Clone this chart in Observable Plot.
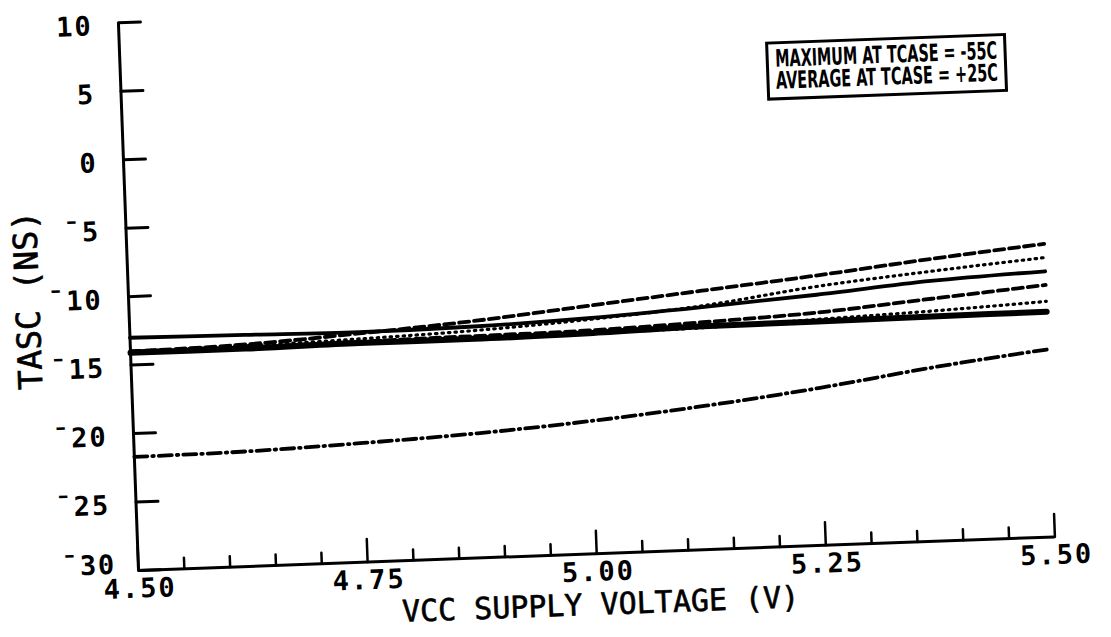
<!DOCTYPE html>
<html><head><meta charset="utf-8">
<script src="https://cdn.jsdelivr.net/npm/d3@7"></script>
<script src="https://cdn.jsdelivr.net/npm/@observablehq/plot@0.6"></script>
<style>
html,body{margin:0;padding:0;background:#fff;}
#chart{width:1111px;height:637px;overflow:hidden;position:relative;}
#chart svg{display:block;}
#chart svg.tilt{transform-origin:138px 570px;transform:rotate(-2.1deg);}
</style></head><body><div id="chart"></div>
<script>
// ---- data ----
const voltage   = [4.50, 4.625, 4.75, 4.875, 5.00, 5.125, 5.25, 5.375, 5.50];
const dashedHi  = [-14.0, -13.8, -13.3, -12.7, -11.9, -11.1, -10.3, -9.4, -8.6];
const dottedHi  = [-14.0, -13.9, -13.7, -13.4, -12.9, -12.2, -11.1, -10.3, -9.6];
const solidHi   = [-13.0, -13.1, -13.2, -13.1, -12.8, -12.3, -11.7, -11.0, -10.6];
const dashedLo  = [-14.0, -14.0, -13.9, -13.8, -13.7, -13.4, -13.0, -12.3, -11.6];
const dottedLo  = [-14.0, -14.0, -14.0, -14.0, -13.9, -13.8, -13.5, -13.2, -12.8];
const solidLo   = [-14.1, -14.1, -14.0, -14.0, -13.9, -13.7, -13.65, -13.6, -13.55];
const dashDot   = [-21.7, -21.6, -21.3, -20.9, -20.3, -19.5, -18.5, -17.3, -16.3];

const yTicks  = [10, 5, 0, -5, -10, -15, -20, -25, -30];
const xMajor  = [4.50, 4.75, 5.00, 5.25, 5.50];
const xMinor  = [4.55, 4.60, 4.65, 4.70, 4.80, 4.85, 4.90, 4.95, 5.05, 5.10, 5.15, 5.20, 5.30, 5.35, 5.40, 5.45];
const xDomain = [4.50, 5.50];
const yDomain = [-30, 10];
const xTitle  = "VCC SUPPLY VOLTAGE (V)";
const yTitle  = "TASC (NS)";
const legendLines = ["MAXIMUM AT TCASE = -55C", "AVERAGE AT TCASE = +25C"];

const rows = vals => voltage.map((v, i) => ({v, t: vals[i]}));
const fmtY = d => d < 0 ? "\u00AF" + Math.abs(d) : String(d);
const MONO = "DejaVu Sans Mono";
const NARROW = "'Liberation Sans Narrow', 'Arial Narrow', 'DejaVu Sans Condensed', sans-serif";
const tickShape = {draw(context, l) { context.moveTo(0, 0); context.lineTo(0, -l); }};
const lineBase = {x: "v", y: "t", stroke: "black", curve: "monotone-x", strokeLinecap: "round"};
const labelStyle = {fontSize: 27, fontWeight: "bold", fontFamily: MONO, fill: "black"};
const legendStyle = {frameAnchor: "top-right", textAnchor: "start", dx: -262,
  fontSize: 24, fontWeight: "bold", fontFamily: NARROW, fill: "black"};

const chart = Plot.plot({
  width: 1111, height: 637,
  marginTop: 22, marginBottom: 67, marginLeft: 138, marginRight: 56,
  x: {domain: xDomain, axis: null},
  y: {domain: yDomain, axis: null},
  style: {background: "white", fontFamily: MONO, overflow: "visible"},
  marks: [
    // curves
    Plot.line(rows(dashedHi), {...lineBase, strokeWidth: 3.8, strokeDasharray: "10,5"}),
    Plot.line(rows(dottedHi), {...lineBase, strokeWidth: 3.2, strokeDasharray: "1.5,5"}),
    Plot.line(rows(solidHi),  {...lineBase, strokeWidth: 3.8}),
    Plot.line(rows(dashedLo), {...lineBase, strokeWidth: 3.8, strokeDasharray: "10,5"}),
    Plot.line(rows(dottedLo), {...lineBase, strokeWidth: 3.2, strokeDasharray: "1.5,5"}),
    Plot.line(rows(solidLo),  {...lineBase, strokeWidth: 6}),
    Plot.line(rows(dashDot),  {...lineBase, strokeWidth: 3.8, strokeDasharray: "13,5,1.5,5"}),
    // axis lines
    Plot.ruleX([xDomain[0]], {strokeWidth: 3}),
    Plot.ruleY([yDomain[0]], {strokeWidth: 3}),
    // y ticks (inward, to the right)
    Plot.vector(yTicks, {x: () => xDomain[0], y: d => d, length: 22, rotate: 90, anchor: "start",
      shape: tickShape, strokeWidth: 3, stroke: "black"}),
    // x ticks (inward, upward)
    Plot.vector(xMinor, {x: d => d, y: () => yDomain[0], length: 11, anchor: "start",
      shape: tickShape, strokeWidth: 2.5, stroke: "black"}),
    Plot.vector(xMajor, {x: d => d, y: () => yDomain[0], length: 23, anchor: "start",
      shape: tickShape, strokeWidth: 2.5, stroke: "black"}),
    // tick labels (the bottom one sits a little higher, clear of the x labels)
    Plot.text(yTicks.filter(d => d > yDomain[0]), {x: () => xDomain[0], y: d => d, text: fmtY, textAnchor: "end", dx: -26, dy: 3, ...labelStyle}),
    Plot.text(yTicks.filter(d => d === yDomain[0]), {x: () => xDomain[0], y: d => d, text: fmtY, textAnchor: "end", dx: -22, dy: -6, ...labelStyle}),
    Plot.text(xMajor, {x: d => d, y: () => yDomain[0], text: d => d.toFixed(2), lineAnchor: "top", dy: 8, dx: 1, ...labelStyle}),
    // axis titles
    Plot.text([yTitle], {text: d => d, frameAnchor: "left", textAnchor: "middle", rotate: -90, dx: -100,
      fontSize: 33, fontFamily: MONO, fill: "black", stroke: "black", strokeWidth: 0.6}),
    Plot.text([xTitle], {text: d => d, frameAnchor: "bottom", textAnchor: "middle", dy: 61, dx: 2,
      fontSize: 30, fontFamily: MONO, fill: "black", stroke: "black", strokeWidth: 0.6}),
    // legend
    Plot.text([legendLines[0]], {text: d => d, dy: 51, ...legendStyle}),
    Plot.text([legendLines[1]], {text: d => d, dy: 73, ...legendStyle})
  ]
});

const host = document.getElementById("chart");
host.appendChild(chart);

const svg = d3.select(chart);
// widen the plotter-style tick labels a little
svg.selectAll("text").filter(function() { return /^[\u00AF]?\d+(\.\d+)?$/.test(this.textContent); })
  .attr("letter-spacing", 2);

// legend box around the legend texts
const legendTexts = svg.selectAll("text").filter(function() { return legendLines.includes(this.textContent); });
legendTexts.each(function() {
  if (this.getComputedTextLength() > 222) d3.select(this).attr("textLength", 222).attr("lengthAdjust", "spacingAndGlyphs");
});
const sRect = chart.getBoundingClientRect();
let x0 = Infinity, y0 = Infinity, x1 = -Infinity, y1 = -Infinity;
legendTexts.each(function() {
  const r = this.getBoundingClientRect();
  x0 = Math.min(x0, r.left - sRect.left); y0 = Math.min(y0, r.top - sRect.top);
  x1 = Math.max(x1, r.right - sRect.left); y1 = Math.max(y1, r.bottom - sRect.top);
});
svg.append("rect").attr("x", x0 - 8).attr("y", y0 - 2).attr("width", x1 - x0 + 16).attr("height", y1 - y0 + 6)
  .attr("fill", "none").attr("stroke", "black").attr("stroke-width", 3);
chart.classList.add("tilt");
</script></body></html>
